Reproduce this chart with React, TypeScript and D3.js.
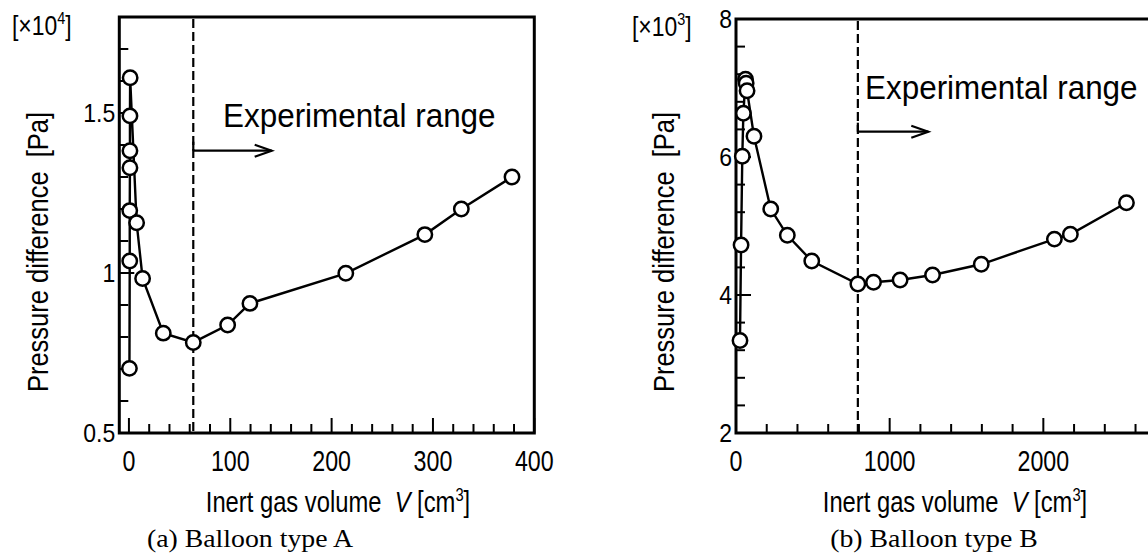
import React from 'react';
import * as d3 from 'd3';

const W = 1148;
const H = 557;

// Panel (a) Balloon type A : V [cm3], pressure difference [x10^4 Pa]
const volA = [0.5, 0.8, 0.8, 1.0, 1.0, 1.0, 1.2, 7.6, 13.5, 33.9, 63.5, 97.4, 119.4, 214, 292, 328, 378];
const presA = [0.702, 1.0375, 1.195, 1.329, 1.382, 1.491, 1.61, 1.157, 0.983, 0.812, 0.783, 0.8375, 0.905, 0.999, 1.12, 1.2, 1.3];
const xTickLabelsA = ['0', '100', '200', '300', '400'];
const yTickLabelsA = ['0.5', '1', '1.5'];
const expStartA = 63.5;

// Panel (b) Balloon type B : V [cm3], pressure difference [x10^3 Pa]
const volB = [26, 33, 41, 48, 62, 66, 72, 117, 226, 334, 493, 793, 895, 1068, 1279, 1596, 2072, 2176, 2541];
const presB = [3.34, 4.725, 6.01, 6.633, 7.126, 7.07, 6.96, 6.3, 5.246, 4.865, 4.493, 4.159, 4.184, 4.217, 4.29, 4.445, 4.81, 4.88, 5.338];
const xTickLabelsB = ['0', '1000', '2000'];
const yTickLabelsB = ['2', '4', '6', '8'];
const expStartB = 793;

const SANS = 'Liberation Sans, Arial, sans-serif';
const SERIF = 'Liberation Serif, Times New Roman, serif';

type TProps = {
  x: number; y: number; sx?: number; rot?: number; anchor?: string; size: number;
  family?: string; children: React.ReactNode;
};
function T({ x, y, sx = 1, rot = 0, anchor = 'start', size, family = SANS, children }: TProps) {
  return (
    <text
      transform={`translate(${x},${y}) rotate(${rot}) scale(${sx},1)`}
      textAnchor={anchor}
      fontSize={size}
      fontFamily={family}
      fill="#000"
      style={{ whiteSpace: 'pre' }}
    >
      {children}
    </text>
  );
}

type PanelCfg = {
  vol: number[]; pres: number[];
  xDomain: [number, number]; xRange: [number, number];
  yDomain: [number, number]; yRange: [number, number];
  xMinor: number; xMajor: number; xMax: number;
  yMinor: number; yMajor: number;
  xLabels: string[]; yLabels: string[];
  expStart: number;
  exp: string; expX: number; expY: number;
  arrowY: number; arrowTip: number;
  expText: string; expTextX: number; expTextY: number;
  yTitleX: number; yTitleY: number;
  xTitleX: number; xTitleY: number;
  caption: string; captionX: number; captionY: number;
};

function Panel(c: PanelCfg) {
  const x = d3.scaleLinear().domain(c.xDomain).range(c.xRange);
  const y = d3.scaleLinear().domain(c.yDomain).range(c.yRange);
  const [x0, x1] = c.xRange;
  const [y0, y1] = c.yRange; // y0 bottom, y1 top
  const eps = 1e-6;
  const xTicks = d3.range(0, c.xMax + eps, c.xMinor);
  const yTicks = d3.range(c.yDomain[0], c.yDomain[1] + eps, c.yMinor);
  const isMajor = (v: number, step: number, base: number) => Math.abs(((v - base) / step) - Math.round((v - base) / step)) < 1e-6;
  const line = d3.line<number>().x((_, i) => x(c.vol[i])).y((d) => y(d));
  const xe = x(c.expStart);
  return (
    <g>
      {xTicks.map((v, i) => {
        const m = isMajor(v, c.xMajor, 0);
        return <line key={'xt' + i} x1={x(v)} x2={x(v)} y1={y0} y2={y0 - (m ? 15 : 9)} stroke="#000" strokeWidth={2} />;
      })}
      {yTicks.map((v, i) => {
        const m = isMajor(v, c.yMajor, c.yDomain[0]);
        return <line key={'yt' + i} x1={x0} x2={x0 + (m ? 15 : 9)} y1={y(v)} y2={y(v)} stroke="#000" strokeWidth={2} />;
      })}
      <rect x={x0} y={y1} width={x1 - x0} height={y0 - y1} fill="none" stroke="#000" strokeWidth={3} />
      <line x1={xe} x2={xe} y1={y1 + 2} y2={y0 - 1} stroke="#000" strokeWidth={2.2} strokeDasharray="9,4" />
      <line x1={xe} x2={xe} y1={c.arrowY - 9} y2={c.arrowY} stroke="#000" strokeWidth={2.2} />
      <line x1={xe} x2={c.arrowTip} y1={c.arrowY} y2={c.arrowY} stroke="#000" strokeWidth={2.2} />
      <polyline points={`${c.arrowTip - 17},${c.arrowY - 6} ${c.arrowTip},${c.arrowY} ${c.arrowTip - 17},${c.arrowY + 6}`} fill="none" stroke="#000" strokeWidth={2.2} />
      <path d={line(c.pres) || ''} fill="none" stroke="#000" strokeWidth={2.4} />
      {c.pres.map((p, i) => (
        <circle key={'c' + i} cx={x(c.vol[i])} cy={y(p)} r={7.2} fill="#fff" stroke="#000" strokeWidth={2.5} />
      ))}
      {c.xLabels.map((s) => (
        <T key={'xl' + s} x={x(+s)} y={471} anchor="middle" size={29} sx={0.8}>{s}</T>
      ))}
      {c.yLabels.map((s) => (
        <T key={'yl' + s} x={x0 - 4} y={y(+s) + 9} anchor="end" size={25} sx={0.92}>{s}</T>
      ))}
      <text transform={`translate(${c.expX},${c.expY}) scale(0.85,1)`} fontSize={27} fontFamily={SANS}>
        [×10<tspan dy={-11} fontSize={17}>{c.exp}</tspan><tspan dy={11}>]</tspan>
      </text>
      <T x={c.expTextX} y={c.expTextY} size={34} sx={0.925}>{c.expText}</T>
      <text transform={`translate(${c.yTitleX},${c.yTitleY}) rotate(-90) scale(0.88,1)`} textAnchor="middle" fontSize={29} fontFamily={SANS} style={{ whiteSpace: 'pre' }}>
        {'Pressure difference  [Pa]'}
      </text>
      <text transform={`translate(${c.xTitleX},${c.xTitleY}) scale(0.82,1)`} textAnchor="middle" fontSize={29} fontFamily={SANS} style={{ whiteSpace: 'pre' }}>
        {'Inert gas volume  '}<tspan fontStyle="italic">V</tspan>{' [cm'}<tspan dy={-11} fontSize={18}>3</tspan><tspan dy={11}>]</tspan>
      </text>
      <T x={c.captionX} y={c.captionY} anchor="middle" size={26} sx={1.07} family={SERIF}>{c.caption}</T>
    </g>
  );
}

export default function App() {
  return (
    <svg width={W} height={H} viewBox={`0 0 ${W} ${H}`} style={{ position: 'absolute', left: 0, top: 0, background: '#fff' }}>
      <rect x={0} y={0} width={W} height={H} fill="#fff" />
      <Panel
        vol={volA} pres={presA}
        xDomain={[-9.5, 400]} xRange={[119.3, 534.3]}
        yDomain={[0.5, 1.8]} yRange={[433, 17]}
        xMinor={20} xMajor={100} xMax={400}
        yMinor={0.1} yMajor={0.5}
        xLabels={xTickLabelsA} yLabels={yTickLabelsA}
        expStart={expStartA}
        exp="4" expX={12} expY={35}
        arrowY={150.7} arrowTip={271.7}
        expText="Experimental range" expTextX={223} expTextY={127}
        yTitleX={48} yTitleY={252}
        xTitleX={338} xTitleY={512}
        caption="(a) Balloon type A" captionX={250} captionY={547}
      />
      <Panel
        vol={volB} pres={presB}
        xDomain={[0, 3000]} xRange={[736, 1197]}
        yDomain={[2, 8]} yRange={[433, 19]}
        xMinor={200} xMajor={1000} xMax={3000}
        yMinor={0.4} yMajor={2}
        xLabels={xTickLabelsB} yLabels={yTickLabelsB}
        expStart={expStartB}
        exp="3" expX={632} expY={36}
        arrowY={131.7} arrowTip={928.3}
        expText="Experimental range" expTextX={865} expTextY={99}
        yTitleX={674} yTitleY={252}
        xTitleX={955} xTitleY={512}
        caption="(b) Balloon type B" captionX={934} captionY={547}
      />
    </svg>
  );
}
